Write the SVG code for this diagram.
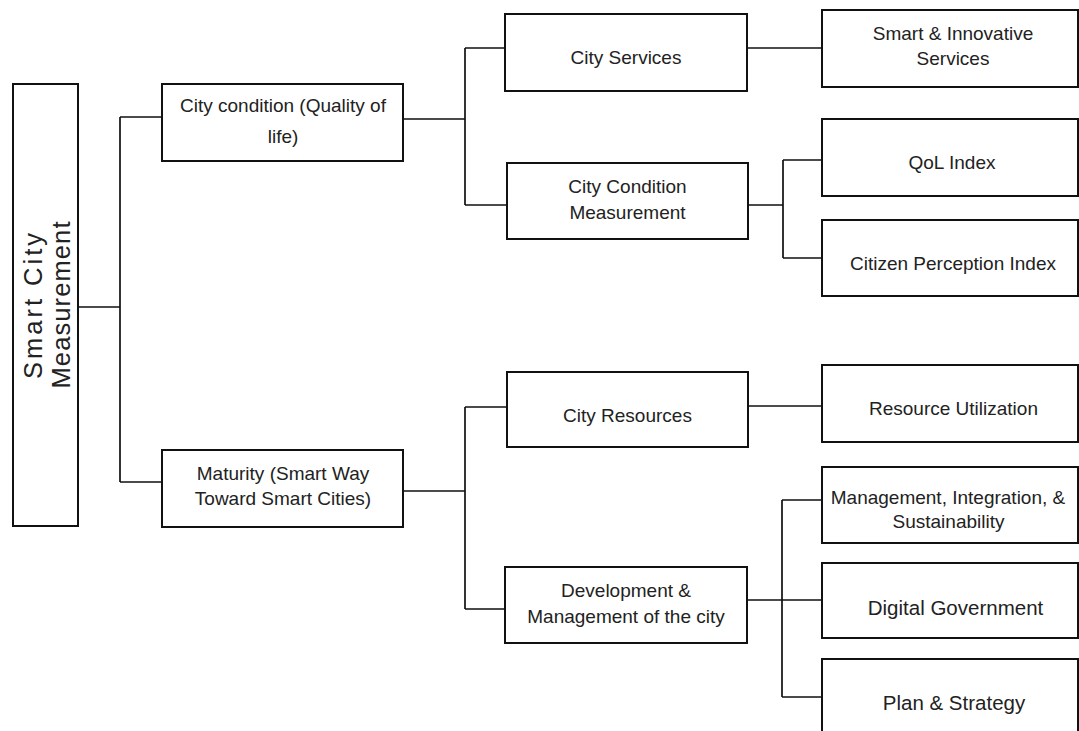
<svg xmlns="http://www.w3.org/2000/svg" width="1079" height="731" viewBox="0 0 1079 731">
  <style>
    .box { fill: #ffffff; stroke: #111111; stroke-width: 2; }
    .lbl { font-family: "Liberation Sans", Arial, sans-serif; font-size: 19px; fill: #222222; text-anchor: middle; }
    .big { font-size: 20.5px; }
    .root { font-family: "Liberation Sans", Arial, sans-serif; font-size: 25.5px; fill: #222222; text-anchor: middle; }
    .wire { fill: none; stroke: #111111; stroke-width: 1.7; }
  </style>
  <rect width="1079" height="731" fill="#ffffff"/>

  <!-- connectors -->
  <g id="connectors">
    <path class="wire" d="M78 307 H120 M120 117 V482 M120 117 H162 M120 482 H162"/>
    <path class="wire" d="M403 119 H465 M465 48 V205 M465 48 H505 M465 205 H507"/>
    <path class="wire" d="M747 48 H822"/>
    <path class="wire" d="M748 205 H783 M783 160 V258 M783 160 H822 M783 258 H822"/>
    <path class="wire" d="M403 491 H465 M465 407 V609 M465 407 H507 M465 609 H507"/>
    <path class="wire" d="M748 406 H822"/>
    <path class="wire" d="M747 600 H822 M782 500 V697 M782 500 H822 M782 697 H822"/>
  </g>

  <!-- root -->
  <g id="node-root">
    <rect class="box" x="13" y="84" width="65" height="442"/>
    <text class="root" transform="translate(42,306) rotate(-90)" textLength="146" lengthAdjust="spacing">Smart City</text>
    <text class="root" transform="translate(70,305) rotate(-90)" textLength="167" lengthAdjust="spacing">Measurement</text>
  </g>

  <!-- first level -->
  <g id="node-city-condition">
    <rect class="box" x="162" y="84" width="241" height="77"/>
    <text class="lbl" x="283" y="112">City condition (Quality of</text>
    <text class="lbl" x="283" y="143">life)</text>
  </g>
  <g id="node-maturity">
    <rect class="box" x="162" y="450" width="241" height="77"/>
    <text class="lbl" x="283" y="480">Maturity (Smart Way</text>
    <text class="lbl" x="283" y="505">Toward Smart Cities)</text>
  </g>

  <!-- second level -->
  <g id="node-city-services">
    <rect class="box" x="505" y="14" width="242" height="77"/>
    <text class="lbl" x="626" y="64">City Services</text>
  </g>
  <g id="node-city-condition-measurement">
    <rect class="box" x="507" y="163" width="241" height="76"/>
    <text class="lbl" x="627.5" y="193">City Condition</text>
    <text class="lbl" x="627.5" y="218.5">Measurement</text>
  </g>
  <g id="node-city-resources">
    <rect class="box" x="507" y="372" width="241" height="75"/>
    <text class="lbl" x="627.5" y="421.5">City Resources</text>
  </g>
  <g id="node-development">
    <rect class="box" x="505" y="567" width="242" height="76"/>
    <text class="lbl" x="626" y="597">Development &amp;</text>
    <text class="lbl" x="626" y="622.5">Management of the city</text>
  </g>

  <!-- third level -->
  <g id="node-smart-services">
    <rect class="box" x="822" y="10" width="256" height="77"/>
    <text class="lbl" x="953" y="40">Smart &amp; Innovative</text>
    <text class="lbl" x="953" y="65">Services</text>
  </g>
  <g id="node-qol-index">
    <rect class="box" x="822" y="119" width="256" height="77"/>
    <text class="lbl" x="952" y="168.5">QoL Index</text>
  </g>
  <g id="node-citizen-perception">
    <rect class="box" x="822" y="220" width="256" height="76"/>
    <text class="lbl" x="953" y="269.5">Citizen Perception Index</text>
  </g>
  <g id="node-resource-utilization">
    <rect class="box" x="822" y="365" width="256" height="77"/>
    <text class="lbl" x="953.5" y="415">Resource Utilization</text>
  </g>
  <g id="node-management">
    <rect class="box" x="822" y="467" width="256" height="76"/>
    <text class="lbl" x="948" y="504">Management, Integration, &amp;</text>
    <text class="lbl" x="948.5" y="528">Sustainability</text>
  </g>
  <g id="node-digital-government">
    <rect class="box" x="822" y="563" width="256" height="75"/>
    <text class="lbl big" x="955.5" y="615">Digital Government</text>
  </g>
  <g id="node-plan-strategy">
    <rect class="box" x="822" y="659" width="256" height="77"/>
    <text class="lbl big" x="954" y="710">Plan &amp; Strategy</text>
  </g>
</svg>
